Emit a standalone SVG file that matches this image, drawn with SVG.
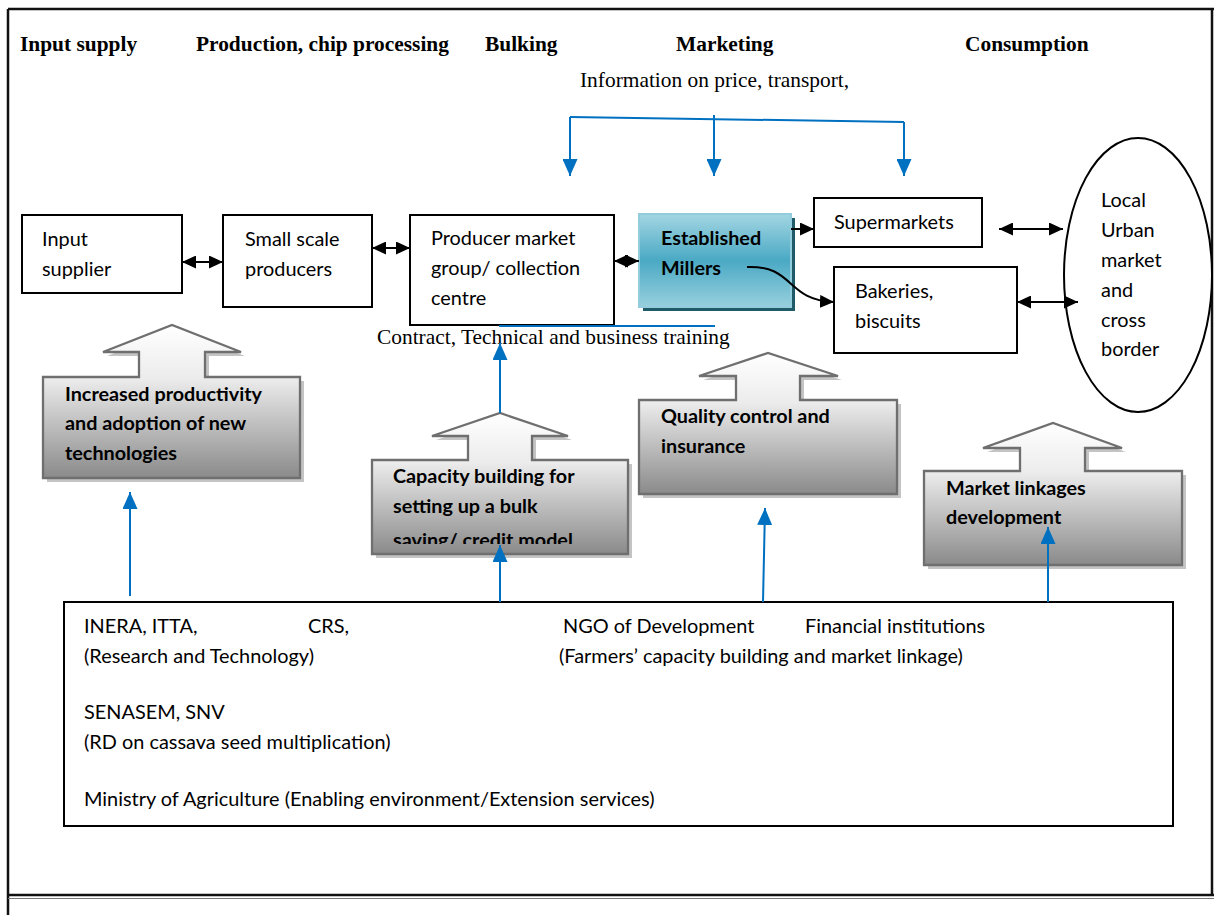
<svg xmlns="http://www.w3.org/2000/svg" width="1214" height="915" viewBox="0 0 1214 915">
  <style>
    .hdr { font-family: "Liberation Serif", "Times New Roman", serif; font-size: 21.4px; font-weight: bold; fill: #000; }
    .serif { font-family: "Liberation Serif", "Times New Roman", serif; font-size: 21.4px; fill: #000; }
    .lbl { font-family: Lato, "Open Sans", sans-serif; font-size: 19.9px; fill: #000; }
    .lblb { font-family: Lato, "Open Sans", sans-serif; font-size: 19.8px; font-weight: bold; fill: #000; }
    .box { fill: #fff; stroke: #000; stroke-width: 2; }
    .callout { fill: url(#calloutFill); stroke: #6f6f6f; stroke-width: 2.3; }
    .callout-shadow { fill: #c4c4c4; stroke: none; }
    .flow { stroke: #000; stroke-width: 2; fill: none; }
    .info { stroke: #0070c0; stroke-width: 2; fill: none; }
    .frame { stroke: #111; stroke-width: 2.5; fill: none; }
  </style>
  <defs>
    <linearGradient id="calloutFill" x1="0" y1="0" x2="0" y2="1">
      <stop offset="0" stop-color="#ffffff"/>
      <stop offset="0.35" stop-color="#ececec"/>
      <stop offset="1" stop-color="#8a8a8a"/>
    </linearGradient>
    <linearGradient id="millerFill" x1="0" y1="0" x2="0" y2="1">
      <stop offset="0" stop-color="#a3d6e3"/>
      <stop offset="0.5" stop-color="#4aa9c4"/>
      <stop offset="1" stop-color="#98d0de"/>
    </linearGradient>
    <marker id="headBlack" markerUnits="userSpaceOnUse" viewBox="0 0 14 13" refX="14" refY="6.5" markerWidth="14" markerHeight="13" orient="auto-start-reverse">
      <path d="M0,0 L14,6.5 L0,13 Z" fill="#000"/>
    </marker>
    <marker id="headBlue" markerUnits="userSpaceOnUse" viewBox="0 0 17 15" refX="17" refY="7.5" markerWidth="17" markerHeight="15" orient="auto">
      <path d="M0,0 L17,7.5 L0,15 Z" fill="#0070c0"/>
    </marker>
    <clipPath id="capClip">
      <rect x="372" y="460" width="256" height="84"/>
    </clipPath>
  </defs>

  <!-- page frame -->
  <g id="frame">
    <rect x="0" y="0" width="1214" height="915" fill="#fff"/>
    <line class="frame" x1="8" y1="9" x2="1214" y2="9"/>
    <line class="frame" x1="8" y1="9" x2="8" y2="915"/>
    <line class="frame" x1="1212" y1="9" x2="1212" y2="896"/>
    <line class="frame" x1="8" y1="895" x2="1214" y2="895"/>
    <line x1="8" y1="898.5" x2="1214" y2="898.5" stroke="#777" stroke-width="1"/>
  </g>

  <!-- stage headings -->
  <g id="headings">
    <text class="hdr" x="20" y="51">Input supply</text>
    <text class="hdr" x="196" y="51">Production, chip processing</text>
    <text class="hdr" x="485" y="51">Bulking</text>
    <text class="hdr" x="676" y="51">Marketing</text>
    <text class="hdr" x="965" y="51">Consumption</text>
    <text class="serif" x="580" y="87">Information on price, transport,</text>
    <text class="serif" x="377" y="344">Contract, Technical and business training</text>
  </g>

  <!-- value chain actors -->
  <g id="input-supplier">
    <rect class="box" x="22" y="215" width="160" height="78"/>
    <text class="lbl" x="42" y="246">Input</text>
    <text class="lbl" x="42" y="276">supplier</text>
  </g>
  <g id="small-producers">
    <rect class="box" x="223" y="215" width="149" height="92"/>
    <text class="lbl" x="245" y="246">Small scale</text>
    <text class="lbl" x="245" y="276">producers</text>
  </g>
  <g id="producer-group">
    <rect class="box" x="410" y="215" width="204" height="110"/>
    <text class="lbl" x="431" y="245">Producer market</text>
    <text class="lbl" x="431" y="275">group/ collection</text>
    <text class="lbl" x="431" y="305">centre</text>
  </g>
  <g id="millers">
    <rect x="643" y="218" width="152" height="93" fill="#215a69"/>
    <rect x="639" y="214" width="152" height="93" fill="url(#millerFill)" stroke="#93cddd" stroke-width="2"/>
    <text class="lblb" x="661" y="245">Established</text>
    <text class="lblb" x="661" y="275">Millers</text>
  </g>
  <g id="supermarkets">
    <rect class="box" x="814" y="198" width="168" height="49"/>
    <text class="lbl" x="834" y="229">Supermarkets</text>
  </g>
  <g id="bakeries">
    <rect class="box" x="834" y="267" width="183" height="86"/>
    <text class="lbl" x="855" y="298">Bakeries,</text>
    <text class="lbl" x="855" y="328">biscuits</text>
  </g>
  <g id="local-market">
    <ellipse cx="1138" cy="275" rx="74" ry="137" fill="#fff" stroke="#000" stroke-width="2"/>
    <text class="lbl" x="1101" y="207">Local</text>
    <text class="lbl" x="1101" y="237">Urban</text>
    <text class="lbl" x="1101" y="267">market</text>
    <text class="lbl" x="1101" y="297">and</text>
    <text class="lbl" x="1101" y="327">cross</text>
    <text class="lbl" x="1101" y="356">border</text>
  </g>

  <!-- interventions -->
  <g id="productivity">
    <path class="callout-shadow" transform="translate(4,4)" d="M43,478 V377 H139 V352 H103 L172,325 L241,352 H205 V377 H300 V478 Z"/>
    <path class="callout" stroke="#ddd9c3" d="M43,478 V377 H139 V352 H103 L172,325 L241,352 H205 V377 H300 V478 Z"/>
    <text class="lblb" x="65" y="401">Increased productivity</text>
    <text class="lblb" x="65" y="430">and adoption of new</text>
    <text class="lblb" x="65" y="460">technologies</text>
  </g>
  <g id="capacity-building">
    <path class="callout-shadow" transform="translate(4,4)" d="M372,554 V460 H468 V436 H432 L500,413 L568,436 H532 V460 H628 V554 Z"/>
    <path class="callout" d="M372,554 V460 H468 V436 H432 L500,413 L568,436 H532 V460 H628 V554 Z"/>
    <g clip-path="url(#capClip)">
      <text class="lblb" x="393" y="483">Capacity building for</text>
      <text class="lblb" x="393" y="513">setting up a bulk</text>
      <text class="lblb" x="393" y="547">saving/ credit model</text>
    </g>
  </g>
  <g id="quality-control">
    <path class="callout-shadow" transform="translate(4,4)" d="M639,494 V400 H736 V376 H699 L768,353 L838,376 H800 V400 H897 V494 Z"/>
    <path class="callout" d="M639,494 V400 H736 V376 H699 L768,353 L838,376 H800 V400 H897 V494 Z"/>
    <text class="lblb" x="661" y="423">Quality control and</text>
    <text class="lblb" x="661" y="453">insurance</text>
  </g>
  <g id="market-linkages">
    <path class="callout-shadow" transform="translate(4,4)" d="M924,565 V471 H1020 V448 H983 L1053,423 L1122,448 H1085 V471 H1182 V565 Z"/>
    <path class="callout" d="M924,565 V471 H1020 V448 H983 L1053,423 L1122,448 H1085 V471 H1182 V565 Z"/>
    <text class="lblb" x="946" y="495">Market linkages</text>
    <text class="lblb" x="946" y="524">development</text>
  </g>

  <!-- supporting institutions -->
  <g id="institutions">
    <rect class="box" x="64" y="602" width="1109" height="224"/>
    <text class="lbl" x="84" y="633">INERA, ITTA,</text>
    <text class="lbl" x="308" y="633">CRS,</text>
    <text class="lbl" x="563" y="633">NGO of Development</text>
    <text class="lbl" x="805" y="633">Financial institutions</text>
    <text class="lbl" x="84" y="663">(Research and Technology)</text>
    <text class="lbl" x="559" y="663">(Farmers’ capacity building and market linkage)</text>
    <text class="lbl" x="84" y="719">SENASEM, SNV</text>
    <text class="lbl" x="84" y="749">(RD on cassava seed multiplication)</text>
    <text class="lbl" x="84" y="806">Ministry of Agriculture (Enabling environment/Extension services)</text>
  </g>

  <!-- connectors -->
  <g id="connectors">
    <line class="flow" x1="182" y1="262" x2="223" y2="262" marker-start="url(#headBlack)" marker-end="url(#headBlack)"/>
    <line class="flow" x1="372" y1="248" x2="410" y2="248" marker-start="url(#headBlack)" marker-end="url(#headBlack)"/>
    <line class="flow" x1="614" y1="261" x2="639" y2="261" marker-start="url(#headBlack)" marker-end="url(#headBlack)"/>
    <line class="flow" x1="791" y1="229" x2="814" y2="229" marker-end="url(#headBlack)"/>
    <path class="flow" d="M747,267 C795,265 785,300 834,302" marker-end="url(#headBlack)"/>
    <line class="flow" x1="999" y1="229" x2="1063" y2="229" marker-start="url(#headBlack)" marker-end="url(#headBlack)"/>
    <line class="flow" x1="1017" y1="302" x2="1078" y2="302" marker-start="url(#headBlack)" marker-end="url(#headBlack)"/>

    <!-- market information -->
    <line class="info" x1="570" y1="117" x2="904" y2="122"/>
    <line class="info" x1="570" y1="117" x2="570" y2="176" marker-end="url(#headBlue)"/>
    <line class="info" x1="714" y1="115" x2="714" y2="176" marker-end="url(#headBlue)"/>
    <line class="info" x1="904" y1="122" x2="904" y2="176" marker-end="url(#headBlue)"/>

    <!-- support links -->
    <line class="info" x1="499" y1="326" x2="715" y2="326"/>
    <line class="info" x1="500" y1="413" x2="500" y2="343" marker-end="url(#headBlue)"/>
    <line class="info" x1="130" y1="596" x2="130" y2="492" marker-end="url(#headBlue)"/>
    <line class="info" x1="500" y1="602" x2="500" y2="545" marker-end="url(#headBlue)"/>
    <line class="info" x1="763" y1="602" x2="765" y2="508" marker-end="url(#headBlue)"/>
    <line class="info" x1="1048" y1="602" x2="1048" y2="527" marker-end="url(#headBlue)"/>
  </g>
</svg>
